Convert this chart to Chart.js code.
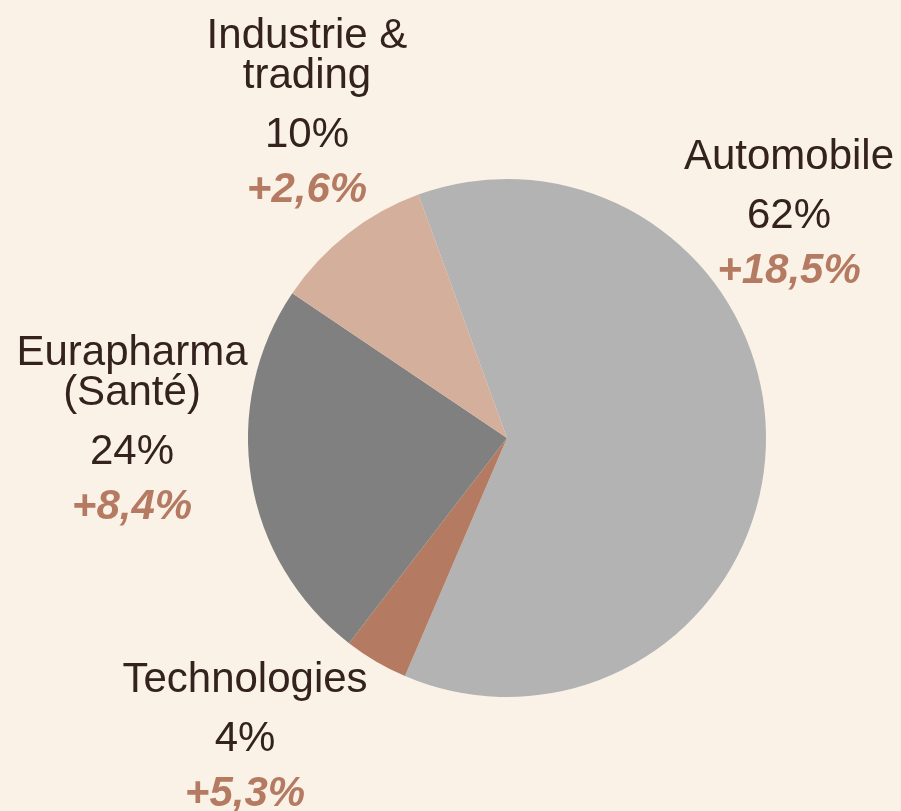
<!DOCTYPE html>
<html>
<head>
<meta charset="utf-8">
<script src="https://cdn.jsdelivr.net/npm/chart.js@4"></script>
<style>
  html, body { margin: 0; padding: 0; background: #faf2e7; }
  #wrap { width: 901px; height: 811px; }
</style>
</head>
<body>
<div id="wrap"><canvas id="pieChart" width="901" height="811"></canvas></div>
<script>
// chart data
var segments = ["Automobile", "Technologies", "Eurapharma (Santé)", "Industrie & trading"];
var shares = [62, 4, 24, 10];
var growth = ["+18,5%", "+5,3%", "+8,4%", "+2,6%"];
var labelLines = [["Automobile"], ["Technologies"], ["Eurapharma", "(Santé)"], ["Industrie &", "trading"]];
var colors = ["#b3b3b3", "#b57b62", "#808080", "#d4af9b"];

// where each label block sits (x centre, baseline of first line)
var labelAnchors = [
  { x: 789, y: 169 },
  { x: 245, y: 692 },
  { x: 132, y: 365 },
  { x: 307, y: 48 }
];

var pieLabels = {
  id: 'pieLabels',
  afterDraw: function(chart) {
    var ctx = chart.ctx;
    ctx.save();
    ctx.textAlign = 'center';
    ctx.textBaseline = 'alphabetic';
    for (var i = 0; i < segments.length; i++) {
      var a = labelAnchors[i];
      var y = a.y;
      ctx.fillStyle = '#33221d';
      ctx.font = '42px "Liberation Sans", Arial, sans-serif';
      for (var j = 0; j < labelLines[i].length; j++) {
        ctx.fillText(labelLines[i][j], a.x, y);
        if (j < labelLines[i].length - 1) y += 40;
      }
      y += 59;
      ctx.fillText(shares[i] + '%', a.x, y);
      y += 55;
      ctx.fillStyle = '#b57b62';
      ctx.font = 'italic bold 42px "Liberation Sans", Arial, sans-serif';
      ctx.fillText(growth[i], a.x, y);
    }
    ctx.restore();
  }
};

var ctx = document.getElementById('pieChart');
var pie = new Chart(ctx, {
  type: 'pie',
  data: {
    labels: segments,
    datasets: [{
      data: shares,
      backgroundColor: colors,
      borderWidth: 0
    }]
  },
  options: {
    responsive: false,
    animation: false,
    rotation: -20,
    layout: { padding: { left: 248, right: 135, top: 179, bottom: 114 } },
    plugins: {
      legend: { display: false },
      tooltip: { enabled: false }
    }
  },
  plugins: [pieLabels]
});
</script>
</body>
</html>
